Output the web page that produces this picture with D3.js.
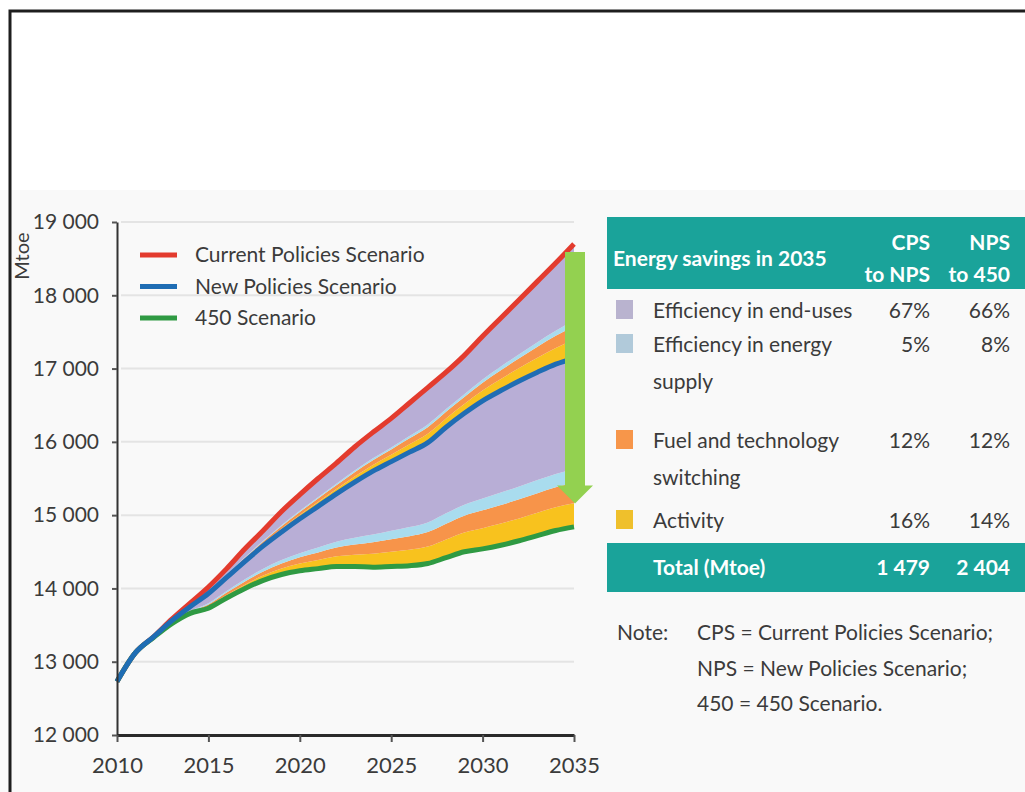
<!DOCTYPE html>
<html>
<head>
<meta charset="utf-8">
<script src="https://cdn.jsdelivr.net/npm/d3@7"></script>
<style>
  html, body { margin: 0; padding: 0; background: #fff; }
  svg { display: block; }
</style>
</head>
<body>
<div id="chart"></div>
<script>
// --- data (Mtoe) ---
const years = [2010, 2011, 2012, 2013, 2014, 2015, 2016, 2017, 2018, 2019, 2020, 2021, 2022,
               2023, 2024, 2025, 2026, 2027, 2028, 2029, 2030, 2031, 2032, 2033, 2034, 2035];
const currentPolicies = [12730, 13120, 13340, 13580, 13800, 14020, 14270, 14540, 14790, 15050, 15280, 15500, 15710,
                         15930, 16130, 16320, 16530, 16740, 16950, 17180, 17440, 17690, 17940, 18190, 18440, 18700];
const newPolicies = [12730, 13120, 13340, 13560, 13750, 13930, 14150, 14370, 14580, 14770, 14950, 15120, 15290,
                     15450, 15600, 15730, 15860, 15990, 16200, 16390, 16560, 16700, 16830, 16950, 17060, 17140];
const scenario450 = [12730, 13120, 13330, 13520, 13660, 13730, 13870, 14000, 14110, 14190, 14240, 14270, 14300,
                     14300, 14290, 14300, 14310, 14340, 14420, 14500, 14540, 14590, 14650, 14720, 14790, 14840];

const xTicks = [2010, 2015, 2020, 2025, 2030, 2035];
const yTicks = [12000, 13000, 14000, 15000, 16000, 17000, 18000, 19000];

const scenarioNames = ['Current Policies Scenario', 'New Policies Scenario', '450 Scenario'];
const scenarioColors = ['#e33b2e', '#1f6db4', '#2f9a43'];

// savings table (shares in %), order as in the table
const savingsLabels = [['Efficiency in end-uses'], ['Efficiency in energy', 'supply'],
                       ['Fuel and technology', 'switching'], ['Activity']];
const cpsToNps = [67, 5, 12, 16];
const npsTo450 = [66, 8, 12, 14];
const totalsMtoe = [1479, 2404];
const bandColors = ['#b8aed6', '#a9dcee', '#f7944a', '#f8c21e'];
const swatchColors = ['#b9b3cf', '#b1cada', '#f7964a', '#efc02c'];

// green arrow from CPS down towards 450
const arrowSpan = [18590, 15160];

const FONT = 'Lato, "Liberation Sans", sans-serif';
const TEXT = '#3b3b3b';
const TEAL = '#1aa39a';

const width = 1025, height = 792;
const svg = d3.select('#chart').append('svg')
    .attr('width', width)
    .attr('height', height)
    .style('font-family', FONT);

// page background + frame
svg.append('rect').attr('x', 0).attr('y', 190).attr('width', width).attr('height', height - 190)
    .attr('fill', '#f9f9f9');
svg.append('path')
    .attr('d', 'M10,792 V11 H1025')
    .attr('fill', 'none').attr('stroke', '#1e1e1e').attr('stroke-width', 3);

// scales
const x = d3.scaleLinear().domain([2010, 2035]).range([117, 574]);
const y = d3.scaleLinear().domain([12000, 19000]).range([735, 222]);

const fmt = d3.formatLocale({ decimal: '.', thousands: ' ', grouping: [3], currency: ['', ''] }).format(',');

// gridlines
svg.append('g').selectAll('line')
    .data(yTicks.slice(1))
    .enter().append('line')
    .attr('x1', x(2010) + 4).attr('x2', x(2035))
    .attr('y1', d => y(d)).attr('y2', d => y(d))
    .attr('stroke', '#e4e4e4').attr('stroke-width', 2);

// stacked bands between scenarios, split by the table shares
function bands(top, base, shares) {
    // stacking from the lower line upward: activity, fuel, supply, end-use
    const order = [3, 2, 1, 0];
    const out = [];
    let cum = years.map(() => 0);
    order.forEach(k => {
        const lo = cum.slice();
        cum = cum.map(c => c + shares[k] / 100);
        out.push({
            color: bandColors[k],
            pts: years.map((yr, i) => ({
                yr,
                y0: base[i] + (top[i] - base[i]) * lo[i],
                y1: base[i] + (top[i] - base[i]) * cum[i]
            }))
        });
    });
    return out;
}

const area = d3.area()
    .x(d => x(d.yr))
    .y0(d => y(d.y0))
    .y1(d => y(d.y1))
    .curve(d3.curveMonotoneX);

const allBands = bands(currentPolicies, newPolicies, cpsToNps)
    .concat(bands(newPolicies, scenario450, npsTo450));

svg.append('g').selectAll('path')
    .data(allBands)
    .enter().append('path')
    .attr('d', d => area(d.pts))
    .attr('fill', d => d.color);

// scenario lines
const line = d3.line()
    .x((d, i) => x(years[i]))
    .y(d => y(d))
    .curve(d3.curveMonotoneX);

const series = [currentPolicies, newPolicies, scenario450];
[0, 2, 1].forEach(k => {
    svg.append('path')
        .attr('d', line(series[k]))
        .attr('fill', 'none')
        .attr('stroke', scenarioColors[k])
        .attr('stroke-width', 5)
        .attr('stroke-linejoin', 'round');
});

// green arrow
const ax = x(2035) + 1;
const yTop = y(arrowSpan[0]), yTip = y(arrowSpan[1]);
const headY = yTip - 18;
svg.append('path')
    .attr('d', `M${ax - 10},${yTop} H${ax + 10} V${headY} H${ax + 18} L${ax},${yTip} L${ax - 18},${headY} H${ax - 10} Z`)
    .attr('fill', '#93d150');

// axes
const yAxis = svg.append('g')
    .attr('transform', `translate(${x(2010)},0)`)
    .call(d3.axisLeft(y).tickValues(yTicks).tickSize(5).tickSizeOuter(0).tickPadding(13).tickFormat(fmt));
yAxis.select('.domain').attr('stroke', '#333').attr('stroke-width', 2);
yAxis.selectAll('.tick line').attr('stroke', '#555').attr('stroke-width', 2);
yAxis.selectAll('text').attr('fill', TEXT).style('font-size', '21px').style('font-family', FONT);

const xAxis = svg.append('g')
    .attr('transform', `translate(0,${y(12000)})`)
    .call(d3.axisBottom(x).tickValues(xTicks).tickSize(7).tickSizeOuter(0).tickPadding(15).tickFormat(d3.format('d')));
xAxis.select('.domain').attr('stroke', '#2a2a2a').attr('stroke-width', 3);
xAxis.selectAll('.tick line').attr('stroke', '#555').attr('stroke-width', 2);
xAxis.selectAll('text').attr('fill', TEXT).style('font-size', '22px').style('font-family', FONT);

svg.append('text')
    .attr('transform', 'translate(29,256) rotate(-90)')
    .attr('text-anchor', 'middle')
    .attr('fill', TEXT)
    .style('font-size', '20px')
    .text('Mtoe');

// legend
const legend = svg.append('g');
scenarioNames.forEach((name, i) => {
    const ly = 255 + i * 31.5;
    legend.append('line')
        .attr('x1', 140).attr('x2', 177).attr('y1', ly).attr('y2', ly)
        .attr('stroke', scenarioColors[i]).attr('stroke-width', 5);
    legend.append('text')
        .attr('x', 195).attr('y', ly + 7)
        .attr('fill', TEXT).style('font-size', '21px')
        .text(name);
});

// --- savings table ---
const col1 = 930, col2 = 1010;
const table = svg.append('g');
table.append('rect').attr('x', 607).attr('y', 217).attr('width', width - 607).attr('height', 72).attr('fill', TEAL);
table.append('rect').attr('x', 607).attr('y', 543).attr('width', width - 607).attr('height', 49).attr('fill', TEAL);

const head = table.append('g').attr('fill', '#fff').style('font-weight', 'bold').style('font-size', '21px');
head.append('text').attr('x', 613).attr('y', 266).text('Energy savings in 2035');
head.append('text').attr('x', col1).attr('y', 250).attr('text-anchor', 'end').text('CPS');
head.append('text').attr('x', col1).attr('y', 282).attr('text-anchor', 'end').text('to NPS');
head.append('text').attr('x', col2).attr('y', 250).attr('text-anchor', 'end').text('NPS');
head.append('text').attr('x', col2).attr('y', 282).attr('text-anchor', 'end').text('to 450');

const rowBase = [318, 352, 448, 528];
savingsLabels.forEach((lines, i) => {
    const b = rowBase[i];
    table.append('rect')
        .attr('x', 616).attr('y', b - 18).attr('width', 17).attr('height', 19)
        .attr('fill', swatchColors[i]);
    lines.forEach((t, j) => {
        table.append('text')
            .attr('x', 653).attr('y', b + j * 37)
            .attr('fill', TEXT).style('font-size', '21px')
            .text(t);
    });
    table.append('text').attr('x', col1).attr('y', b).attr('text-anchor', 'end')
        .attr('fill', TEXT).style('font-size', '21px').text(cpsToNps[i] + '%');
    table.append('text').attr('x', col2).attr('y', b).attr('text-anchor', 'end')
        .attr('fill', TEXT).style('font-size', '21px').text(npsTo450[i] + '%');
});

const tot = table.append('g').attr('fill', '#fff').style('font-weight', 'bold').style('font-size', '21px');
tot.append('text').attr('x', 653).attr('y', 575).text('Total (Mtoe)');
tot.append('text').attr('x', col1).attr('y', 575).attr('text-anchor', 'end').text(fmt(totalsMtoe[0]));
tot.append('text').attr('x', col2).attr('y', 575).attr('text-anchor', 'end').text(fmt(totalsMtoe[1]));

// note
const noteLines = ['CPS = Current Policies Scenario;', 'NPS = New Policies Scenario;', '450 = 450 Scenario.'];
table.append('text').attr('x', 617).attr('y', 640).attr('fill', TEXT).style('font-size', '21px').text('Note:');
noteLines.forEach((t, i) => {
    table.append('text')
        .attr('x', 697).attr('y', 640 + i * 35.5)
        .attr('fill', TEXT).style('font-size', '21px')
        .text(t);
});
</script>
</body>
</html>
